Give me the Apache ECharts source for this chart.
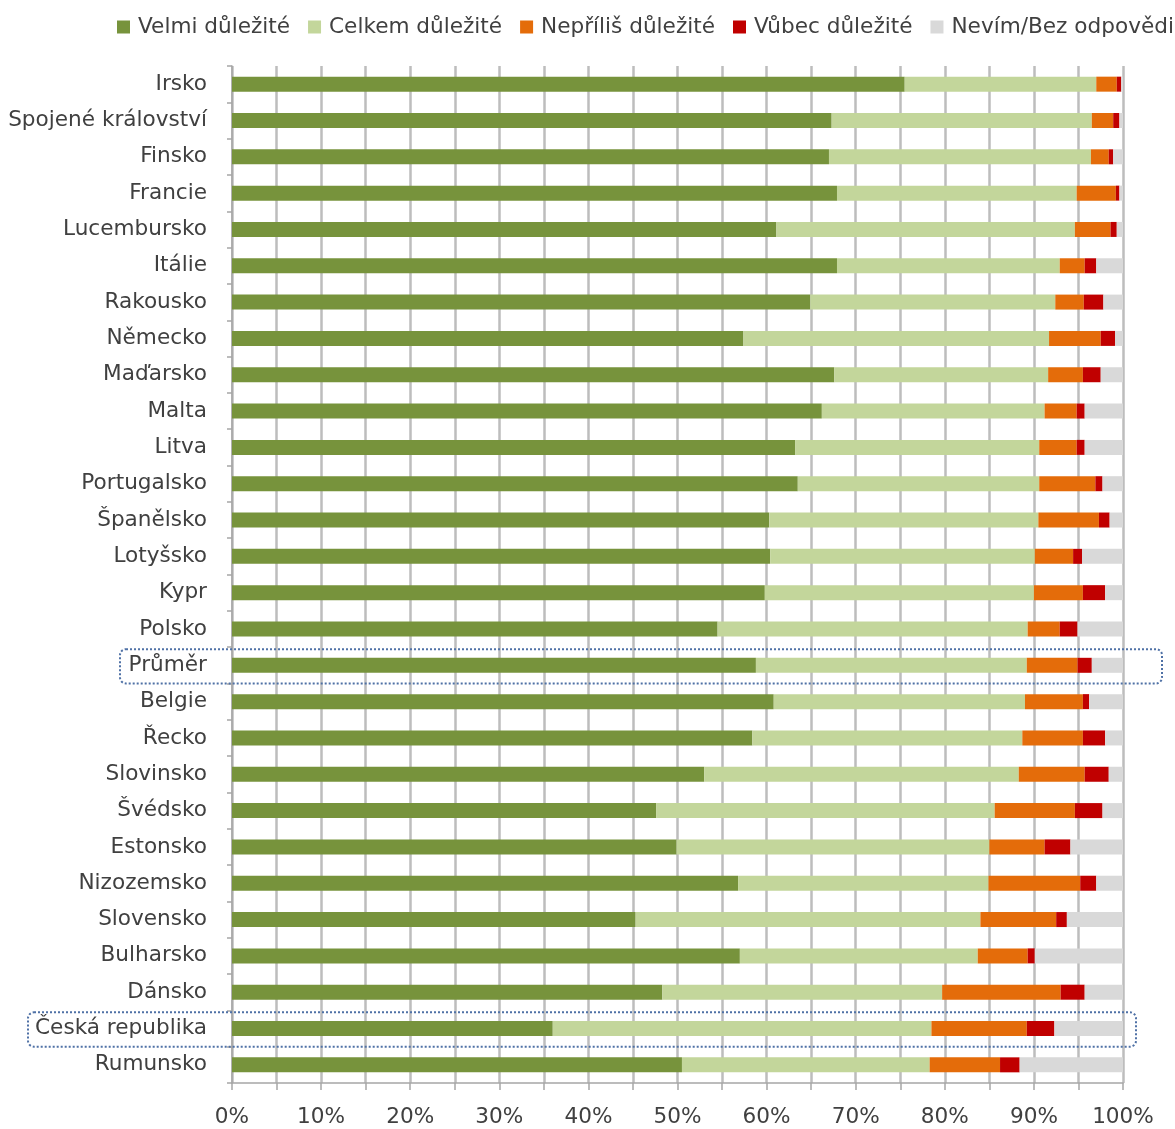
<!DOCTYPE html>
<html>
<head>
<meta charset="utf-8">
<script src="https://cdn.jsdelivr.net/npm/echarts@6/dist/echarts.min.js"></script>
<style>
  html, body { margin: 0; padding: 0; background: #fff; }
  #chart { width: 1175px; height: 1129px; }
</style>
</head>
<body>
<div id="chart"></div>
<script>
// Countries, top to bottom
const categories = ['Irsko', 'Spojené království', 'Finsko', 'Francie', 'Lucembursko', 'Itálie',
  'Rakousko', 'Německo', 'Maďarsko', 'Malta', 'Litva', 'Portugalsko', 'Španělsko', 'Lotyšsko',
  'Kypr', 'Polsko', 'Průměr', 'Belgie', 'Řecko', 'Slovinsko', 'Švédsko', 'Estonsko',
  'Nizozemsko', 'Slovensko', 'Bulharsko', 'Dánsko', 'Česká republika', 'Rumunsko'];

const seriesNames = ['Velmi důležité', 'Celkem důležité', 'Nepříliš důležité', 'Vůbec důležité', 'Nevím/Bez odpovědi'];

// Shares of answers in percent
const velmi  = [75.5, 67.3, 67.0, 67.9, 61.1, 67.9, 64.9, 57.4, 67.6, 66.2, 63.2, 63.5, 60.3, 60.4, 59.8, 54.5, 58.8, 60.8, 58.4, 53.0, 47.6, 49.9, 56.8, 45.3, 57.0, 48.3, 36.0, 50.5];
const celkem = [21.5, 29.2, 29.4, 26.9, 33.5, 25.0, 27.5, 34.3, 24.0, 25.0, 27.4, 27.1, 30.2, 29.7, 30.2, 34.8, 30.4, 28.2, 30.3, 35.3, 38.0, 35.1, 28.1, 38.7, 26.7, 31.4, 42.5, 27.8];
const neprilis = [2.3, 2.4, 2.0, 4.4, 4.0, 2.8, 3.2, 5.8, 3.9, 3.6, 4.2, 6.3, 6.8, 4.3, 5.5, 3.6, 5.7, 6.5, 6.8, 7.4, 9.0, 6.2, 10.3, 8.5, 5.6, 13.3, 10.7, 7.9];
const vubec  = [0.5, 0.7, 0.5, 0.4, 0.7, 1.3, 2.2, 1.6, 2.0, 0.9, 0.9, 0.8, 1.2, 1.0, 2.5, 2.0, 1.6, 0.7, 2.5, 2.7, 3.1, 2.9, 1.8, 1.2, 0.8, 2.7, 3.1, 2.2];
const nevim  = [0.2, 0.4, 1.1, 0.4, 0.7, 3.0, 2.2, 0.9, 2.5, 4.3, 4.3, 2.3, 1.5, 4.6, 2.0, 5.1, 3.5, 3.8, 2.0, 1.6, 2.3, 5.9, 3.0, 6.3, 9.9, 4.3, 7.7, 11.6];

// Labelled ticks; gridlines also run halfway between them
const xTicks = [0, 10, 20, 30, 40, 50, 60, 70, 80, 90, 100];

// Rows highlighted with a dotted frame: [category, left offset from axis, right overhang past 100 %]
const highlighted = [['Průměr', 112, 39], ['Česká republika', 204, 13]];

const colors = ['#77933C', '#C3D69B', '#E46C0A', '#C00000', '#D9D9D9'];
const values = [velmi, celkem, neprilis, vubec, nevim];
const FONT = 'DejaVu Sans';
const FS = 21.6;

const W = 1175, H = 1129;
const gridTop = 66, gridBottom = 46, gridLeft = 232, gridRight = 52;
const gridColor = '#bdbdbd';
const axisColor = '#a6a6a6';

const chart = echarts.init(document.getElementById('chart'), null, { renderer: 'canvas', width: W, height: H });

// Frame geometry from the category band layout
const band = (H - gridTop - gridBottom) / categories.length;
const xFull = W - gridRight;
const frames = highlighted.map(([cat, leftOff, rightOff]) => {
  const cy = gridTop + band * (categories.indexOf(cat) + 0.5);
  const x0 = gridLeft - leftOff;
  const x1 = xFull + rightOff;
  return {
    type: 'rect',
    shape: { x: x0, y: cy - band / 2 + 2, width: x1 - x0, height: band - 2, r: 6 },
    style: { fill: 'none', stroke: '#4f71a6', lineWidth: 2, lineDash: [2, 2] },
    silent: true,
    z: 10
  };
});

chart.setOption({
  animation: false,
  color: colors,
  legend: {
    data: seriesNames,
    left: 112,
    top: 11,
    width: 1063,
    itemWidth: 13,
    itemHeight: 13,
    itemGap: 18,
    icon: 'rect',
    textStyle: { fontFamily: FONT, fontSize: FS, color: '#404040', padding: [0, 0, 0, 3] }
  },
  grid: { left: gridLeft, right: gridRight, top: gridTop, bottom: gridBottom },
  xAxis: {
    type: 'value',
    min: xTicks[0],
    max: xTicks[xTicks.length - 1],
    interval: (xTicks[1] - xTicks[0]) / 2,
    axisLine: { show: true, lineStyle: { color: axisColor, width: 1.5 } },
    axisTick: { show: true, length: 7, lineStyle: { color: axisColor, width: 1.5 } },
    splitLine: { show: true, lineStyle: { color: gridColor, width: 2.5, type: 'solid' } },
    axisLabel: {
      hideOverlap: false,
      formatter: v => (xTicks.indexOf(v) >= 0 ? v + '%' : ''),
      fontFamily: FONT, fontSize: FS, color: '#404040', margin: 23
    }
  },
  yAxis: {
    type: 'category',
    data: categories,
    inverse: true,
    axisLine: { show: true, lineStyle: { color: axisColor, width: 1.5 } },
    axisTick: { show: true, length: 5, lineStyle: { color: axisColor, width: 1.5 } },
    axisLabel: { fontFamily: FONT, fontSize: FS, color: '#404040', margin: 25 }
  },
  graphic: frames,
  series: seriesNames.map((name, i) => ({
    name,
    type: 'bar',
    stack: 'total',
    barWidth: 15,
    z: 3,
    data: values[i],
    itemStyle: { color: colors[i] }
  }))
});
</script>
</body>
</html>
